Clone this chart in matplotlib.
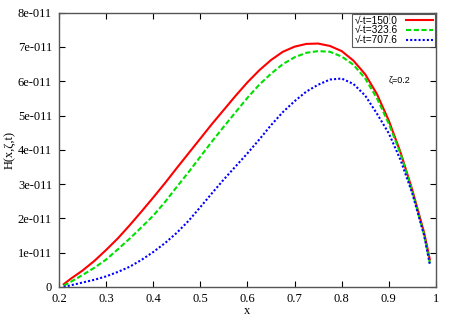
import numpy as np
import matplotlib
matplotlib.use('Agg')
import matplotlib.pyplot as plt
from matplotlib.ticker import FuncFormatter

# values, in units of 1e-11
x = [0.21, 0.225, 0.25, 0.275, 0.30, 0.325, 0.35, 0.375, 0.40, 0.425,
     0.45, 0.475, 0.50, 0.525, 0.55, 0.575, 0.60, 0.625, 0.65, 0.675,
     0.70, 0.725, 0.75, 0.775, 0.80, 0.825, 0.85, 0.875, 0.90, 0.925,
     0.95, 0.975, 0.987]
h_150 = [0.08, 0.24, 0.48, 0.76, 1.08, 1.42, 1.80, 2.20, 2.61, 3.03,
         3.47, 3.90, 4.33, 4.76, 5.17, 5.58, 5.97, 6.32, 6.62, 6.86,
         7.01, 7.09, 7.10, 7.03, 6.88, 6.60, 6.20, 5.62, 4.85, 3.92,
         2.82, 1.58, 0.80]
h_323 = [0.04, 0.15, 0.35, 0.56, 0.80, 1.10, 1.41, 1.74, 2.08, 2.48,
         2.92, 3.35, 3.80, 4.25, 4.68, 5.10, 5.52, 5.90, 6.22, 6.50,
         6.70, 6.83, 6.88, 6.86, 6.72, 6.48, 6.08, 5.50, 4.76, 3.88,
         2.78, 1.52, 0.70]
h_707 = [0.00, 0.05, 0.13, 0.21, 0.31, 0.44, 0.59, 0.79, 1.02, 1.28,
         1.58, 1.93, 2.33, 2.74, 3.14, 3.52, 3.90, 4.30, 4.72, 5.10,
         5.42, 5.70, 5.90, 6.05, 6.08, 5.92, 5.58, 5.05, 4.48, 3.70,
         2.72, 1.50, 0.66]
labels = ['√-t=150.0', '√-t=323.6', '√-t=707.6']

scale = 1e-11
fig = plt.figure(figsize=(4.52, 3.16), dpi=100)
ax = fig.add_axes([0.1305, 0.0918, 0.834, 0.868])

ax.plot(x, np.array(h_150) * scale, color='#ff0000', lw=1.5, label=labels[0])
ax.plot(x, np.array(h_323) * scale, color='#00e000', lw=1.5, ls=(0, (2.5, 1.2)), label=labels[1])
ax.plot(x, np.array(h_707) * scale, color='#0000ff', lw=1.5, ls=(0, (1, 1)), label=labels[2])

ax.set_xlim(0.2, 1.0)
ax.set_ylim(0, 8e-11)
ax.set_xticks(np.arange(0.2, 1.01, 0.1))
ax.set_yticks(np.arange(0, 8.5e-11, 1e-11))
ax.xaxis.set_major_formatter(FuncFormatter(lambda v, p: '1' if abs(v - 1) < 1e-9 else f'{v:.1f}'))
ax.yaxis.set_major_formatter(FuncFormatter(lambda v, p: '0' if v == 0 else f'{round(v / scale)}e-011'))

serif = 'Liberation Serif'
for t in ax.get_xticklabels() + ax.get_yticklabels():
    t.set_family(serif)
    t.set_fontsize(9)
ax.tick_params(direction='in', length=4, width=0.8, top=True, right=True)
ax.tick_params(axis='x', pad=4)
ax.tick_params(axis='y', pad=5)
for s in ax.spines.values():
    s.set_color('#555555')
    s.set_linewidth(1.0)

ax.set_xlabel('x', family=serif, fontsize=9, labelpad=0)
ax.set_ylabel('H(x,ζ,t)', family=serif, fontsize=9)
ax.yaxis.set_label_coords(-0.115, 0.5)

ax.text(0.922, 6.03e-11, 'ζ=0.2', family='Liberation Sans', fontsize=6.5, ha='center', va='center')

leg = ax.legend(loc='upper right', markerfirst=False, prop={'family': 'Liberation Sans', 'size': 7.3},
                frameon=True, fancybox=False, borderpad=0.2, labelspacing=-0.03, handlelength=2.7,
                handletextpad=0.8, borderaxespad=0.1)
leg.get_frame().set_edgecolor('#333333')
leg.get_frame().set_linewidth(0.8)

plt.savefig('out.png', dpi=100)
